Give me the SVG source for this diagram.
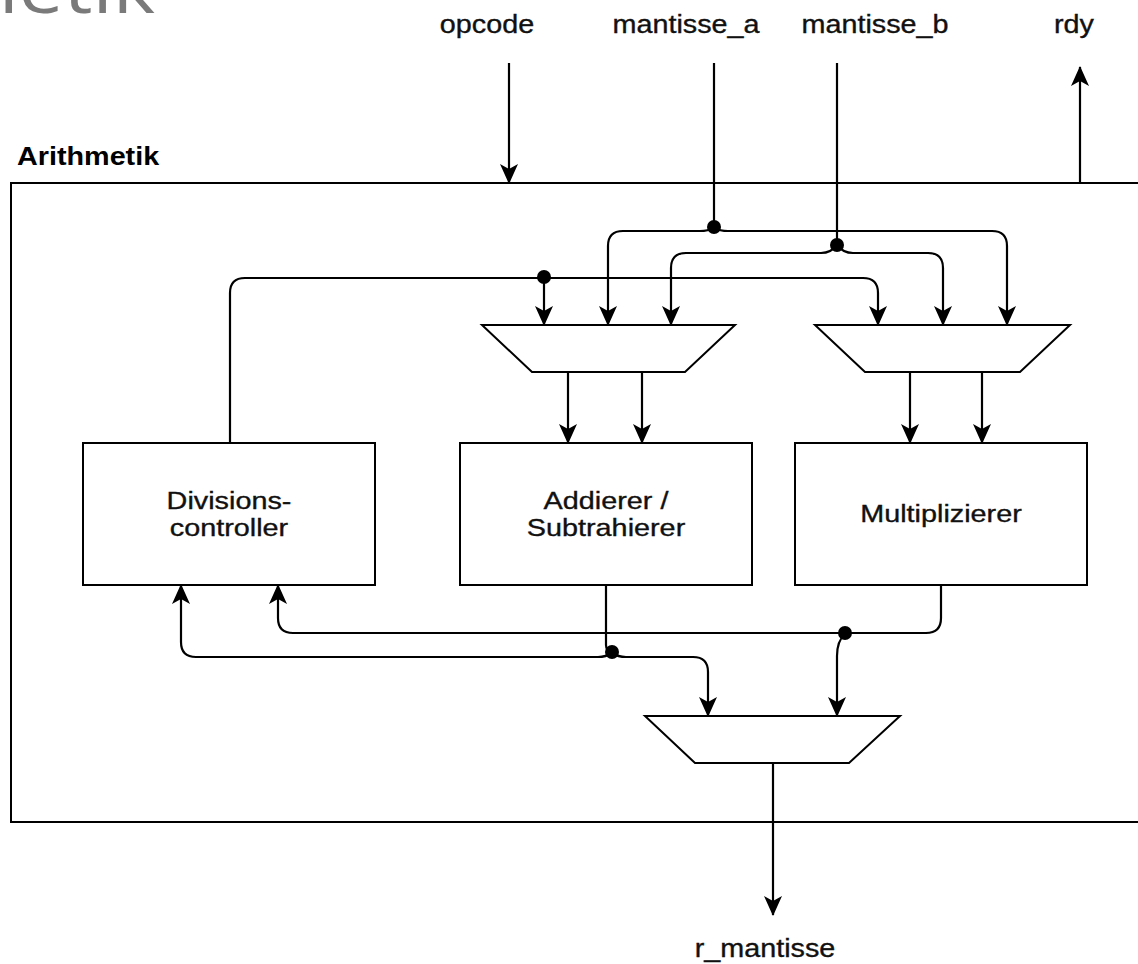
<svg xmlns="http://www.w3.org/2000/svg" width="1138" height="964" viewBox="0 0 1138 964">
  <style>
    .box { fill: #ffffff; stroke: #000000; stroke-width: 2; }
    .wire { fill: none; stroke: #000000; stroke-width: 2.2; }
    .arrow { marker-end: url(#head); }
    .dot { fill: #000000; }
    .lbl { font-family: "Liberation Sans", Arial, Helvetica, sans-serif; font-size: 25px; fill: #111111; stroke: #111111; stroke-width: 0.35px; }
    .unit { font-family: "Liberation Sans", Arial, Helvetica, sans-serif; font-size: 24px; fill: #111111; stroke: #111111; stroke-width: 0.35px; }
    .title { font-family: "Liberation Sans", Arial, Helvetica, sans-serif; font-size: 25px; font-weight: bold; fill: #000000; }
    .ghost { font-family: "Open Sans", "Noto Sans", sans-serif; font-size: 70px; fill: #7a7a7a; }
  </style>
  <defs>
    <marker id="head" viewBox="0 0 20 20" refX="19" refY="10" markerWidth="20" markerHeight="20" markerUnits="userSpaceOnUse" orient="auto">
      <path d="M0,1 L20,10 L0,19 L5,10 Z" fill="#000000"/>
    </marker>
  </defs>

  <rect width="1138" height="964" fill="#ffffff"/>

  <!-- heading, cut at the top edge -->
  <text class="ghost" text-anchor="end" transform="translate(155,13) scale(1.15,1)">metik</text>

  <!-- Arithmetik container -->
  <g id="arithmetik">
    <rect class="box" x="11" y="183" width="1140" height="639"/>
    <text class="title" transform="translate(17,165) scale(1.15,1)">Arithmetik</text>
  </g>

  <!-- port labels -->
  <g id="port-opcode"><text class="lbl" text-anchor="middle" transform="translate(487,33) scale(1.15,1)">opcode</text></g>
  <g id="port-mantisse-a"><text class="lbl" text-anchor="middle" transform="translate(686,33) scale(1.15,1)">mantisse_a</text></g>
  <g id="port-mantisse-b"><text class="lbl" text-anchor="middle" transform="translate(875,33) scale(1.15,1)">mantisse_b</text></g>
  <g id="port-rdy"><text class="lbl" text-anchor="middle" transform="translate(1074,33) scale(1.15,1)">rdy</text></g>
  <g id="port-r-mantisse"><text class="lbl" text-anchor="middle" transform="translate(765,957) scale(1.15,1)">r_mantisse</text></g>

  <!-- input multiplexers -->
  <g id="mux-addsub">
    <path class="box" d="M482,325 L735,325 L685,372 L532,372 Z"/>
  </g>
  <g id="mux-mul">
    <path class="box" d="M815,325 L1070,325 L1020,372 L865,372 Z"/>
  </g>
  <!-- result multiplexer -->
  <g id="mux-result">
    <path class="box" d="M645,716 L900,716 L849,763 L695,763 Z"/>
  </g>

  <!-- functional units -->
  <g id="divisionscontroller">
    <rect class="box" x="83" y="443" width="292" height="142"/>
    <text class="unit" text-anchor="middle" transform="translate(229,509) scale(1.2,1)">Divisions-</text>
    <text class="unit" text-anchor="middle" transform="translate(229,536) scale(1.2,1)">controller</text>
  </g>
  <g id="addierer-subtrahierer">
    <rect class="box" x="460" y="443" width="292" height="142"/>
    <text class="unit" text-anchor="middle" transform="translate(606,509) scale(1.2,1)">Addierer /</text>
    <text class="unit" text-anchor="middle" transform="translate(606,536) scale(1.2,1)">Subtrahierer</text>
  </g>
  <g id="multiplizierer">
    <rect class="box" x="795" y="443" width="292" height="142"/>
    <text class="unit" text-anchor="middle" transform="translate(941,522) scale(1.2,1)">Multiplizierer</text>
  </g>

  <g id="connectors">
    <!-- external ports -->
    <path class="wire arrow" d="M509,63 L509,183"/>
    <path class="wire arrow" d="M1080,183 L1080,67"/>
    <path class="wire" d="M714,63 L714,228"/>
    <path class="wire" d="M837,63 L837,245"/>

    <!-- mantisse_a fan-out -->
    <path class="wire arrow" d="M714,228 Q708,231 700,231 L623,231 Q608,231 608,246 L608,325"/>
    <path class="wire arrow" d="M714,228 Q720,231 728,231 L992,231 Q1007,231 1007,246 L1007,325"/>
    <circle class="dot" cx="714" cy="227" r="7"/>

    <!-- mantisse_b fan-out -->
    <path class="wire arrow" d="M837,245 Q831,253 821,253 L686,253 Q671,253 671,268 L671,325"/>
    <path class="wire arrow" d="M837,245 Q843,253 853,253 L928,253 Q943,253 943,268 L943,325"/>
    <circle class="dot" cx="837" cy="245" r="7"/>

    <!-- divisions controller operand path -->
    <path class="wire arrow" d="M230,443 L230,293 Q230,278 245,278 L863,278 Q878,278 878,293 L878,325"/>
    <path class="wire arrow" d="M544,278 L544,325"/>
    <circle class="dot" cx="544" cy="277" r="7"/>

    <!-- mux outputs into the units -->
    <path class="wire arrow" d="M568,372 L568,443"/>
    <path class="wire arrow" d="M642,372 L642,443"/>
    <path class="wire arrow" d="M910,372 L910,443"/>
    <path class="wire arrow" d="M982,372 L982,443"/>

    <!-- multiplier result -->
    <path class="wire arrow" d="M941,585 L941,618 Q941,633 926,633 L293,633 Q278,633 278,618 L278,585"/>
    <path class="wire arrow" d="M845,634 Q837,641 837,656 L837,716"/>
    <circle class="dot" cx="845" cy="633" r="7"/>

    <!-- adder / subtractor result -->
    <path class="wire" d="M606,585 L606,645 Q606,651 612,653"/>
    <path class="wire arrow" d="M612,653 Q606,657 598,657 L196,657 Q181,657 181,642 L181,585"/>
    <path class="wire arrow" d="M612,653 Q618,657 626,657 L693,657 Q708,657 708,672 L708,716"/>
    <circle class="dot" cx="612" cy="652" r="7"/>

    <!-- result output -->
    <path class="wire arrow" d="M773,763 L773,915"/>
  </g>
</svg>
